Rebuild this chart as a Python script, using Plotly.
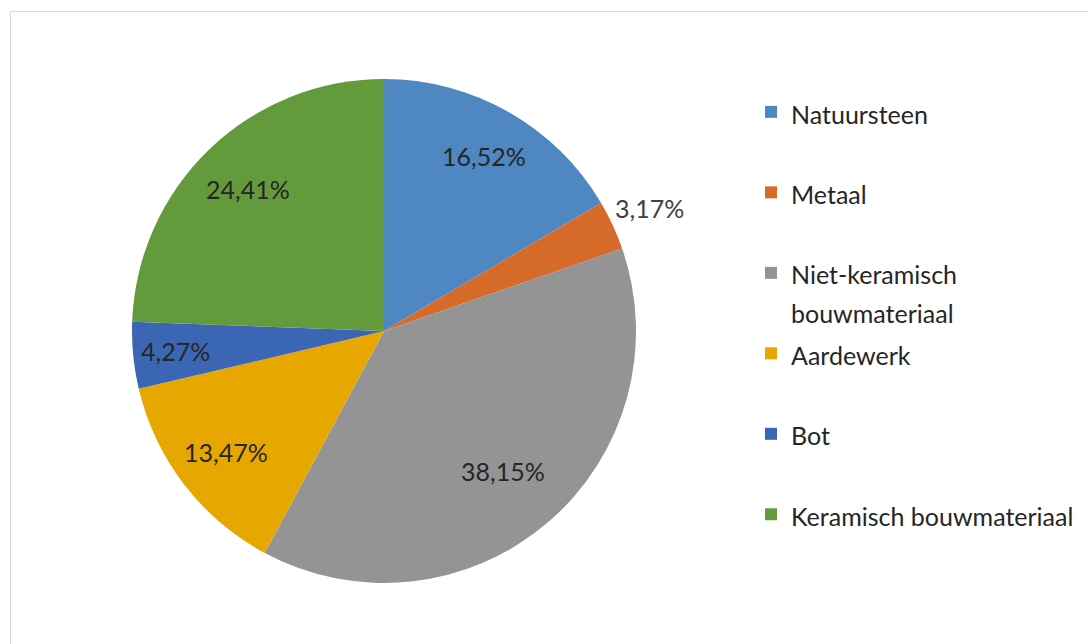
import math
import plotly.graph_objects as go

# ---- data ----
categories = ["Natuursteen", "Metaal", "Niet-keramisch<br>bouwmateriaal",
              "Aardewerk", "Bot", "Keramisch bouwmateriaal"]
values = [16.52, 3.17, 38.15, 13.47, 4.27, 24.41]

# ---- style ----
colors = ["#4F87C2", "#D66A28", "#949494", "#E6A800", "#3B66B4", "#629A3C"]
label_radius = [0.80, 1.16, 0.73, 0.79, 0.83, 0.78]  # fraction of pie radius
W, H = 1088, 644
CX, CY, R = 384, 331, 252
FONT = "Lato, Carlito, Calibri, sans-serif"
TXT = 25          # visible text size
LEG_BASE = 29.8   # legend base size (controls entry spacing)

# legend names: visible text at TXT size, padded to two lines for Excel-like spacing
legend_names = []
for c in categories:
    lines = c.split("<br>")
    styled = "<br>".join(f"<span style='font-size:{TXT}px'>{l}</span>" for l in lines)
    legend_names.append(styled + "<br> " * (2 - len(lines)))

fig = go.Figure(go.Pie(
    labels=legend_names,
    values=values,
    sort=False,
    direction="clockwise",
    rotation=0,
    marker=dict(colors=colors, line=dict(width=0)),
    textinfo="none",
    hovertext=[c.replace("<br>", " ") for c in categories],
    hoverinfo="text+percent",
    domain=dict(x=[(CX - R) / W, (CX + R) / W],
                y=[(H - CY - R) / H, (H - CY + R) / H]),
))

# data labels placed along each slice's mid-angle
annotations = []
total = sum(values)
cum = 0.0
for v, f in zip(values, label_radius):
    mid = (cum + v / 2) / total * 2 * math.pi
    cum += v
    px = CX + f * R * math.sin(mid)
    py = CY - f * R * math.cos(mid)
    annotations.append(dict(
        x=px / W, y=(H - py) / H, xref="paper", yref="paper",
        text=f"{v:.2f}%".replace(".", ","), showarrow=False,
        font=dict(family=FONT, size=TXT, color="#262626" if f < 1 else "#404040"),
        xanchor="center", yanchor="middle"))

fig.update_layout(
    width=W, height=H,
    margin=dict(l=0, r=0, t=0, b=0),
    paper_bgcolor="white",
    plot_bgcolor="white",
    font=dict(family=FONT, size=LEG_BASE, color="#262626"),
    showlegend=True,
    legend=dict(x=751 / W, y=1 - 86 / H, xanchor="left", yanchor="top",
                valign="top", font=dict(family=FONT, size=LEG_BASE, color="#262626"),
                bgcolor="rgba(0,0,0,0)"),
    annotations=annotations,
    shapes=[dict(type="rect", xref="paper", yref="paper",
                 x0=10.5 / W, x1=1.02, y0=-0.02, y1=1 - 11.5 / H,
                 line=dict(color="#D9D9D9", width=1), fillcolor="rgba(0,0,0,0)")],
)

fig.write_html("out.html", config={"displayModeBar": False},
               post_script="document.body.style.margin='0';")
